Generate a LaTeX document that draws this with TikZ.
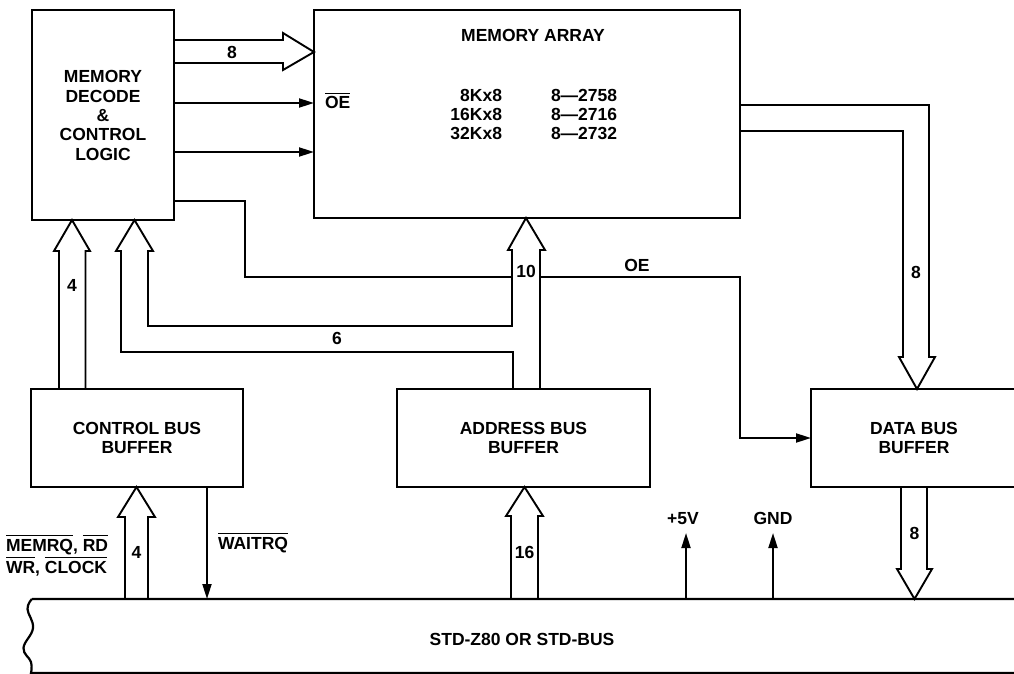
\documentclass[tikz,border=0pt]{standalone}
\usepackage{fontspec}
\setmainfont{Liberation Sans}
\usetikzlibrary{arrows.meta,calc}
\newcommand\ovl[1]{{\setbox0\hbox{#1}\rlap{\rule[15pt]{\wd0}{1.4pt}}\box0}}
\begin{document}
\begin{tikzpicture}[x=1pt,y=-1pt,
  box/.style={draw,line width=2.4pt,rectangle,inner sep=0pt,outer sep=0pt},
  wire/.style={line width=1.9pt,line join=miter},
  sig/.style={wire,-{Triangle[length=15pt,width=9pt]}},
  lbl/.style={font=\fontsize{17.5}{19.3}\selectfont\bfseries,inner sep=0pt,outer sep=0pt},
  busline/.style={line width=2.2pt}
]
\fill[white] (0,0) rectangle (1014,674);
\useasboundingbox (0,0) rectangle (1014,674);

% blocks
\node[box,minimum width=142pt,minimum height=210pt] (dec) at (103,115) {};
\node[lbl,align=center] (dect) at (103,115.5) {MEMORY\\DECODE\\\&\\CONTROL\\LOGIC};
\node[box,minimum width=426pt,minimum height=208pt] (mem) at (527,114) {};
\node[lbl] (memt) at (533,35) {MEMORY ARRAY};
\node[lbl,align=right,anchor=east,font=\fontsize{17.5}{19}\selectfont\bfseries] (cap) at (502,114) {8Kx8\\16Kx8\\32Kx8};
\node[lbl,align=left,anchor=west,font=\fontsize{17.5}{19}\selectfont\bfseries] (part) at (551,114) {8—2758\\8—2716\\8—2732};
\node[box,minimum width=212pt,minimum height=98pt] (cbb) at (137,438) {};
\node[lbl,align=center] (cbbt) at (137,438) {CONTROL BUS\\BUFFER};
\node[box,minimum width=253pt,minimum height=98pt] (abb) at (523.5,438) {};
\node[lbl,align=center] (abbt) at (523.5,438) {ADDRESS BUS\\BUFFER};
\node[box,minimum width=206pt,minimum height=98pt] (dbb) at (914,438) {};
\node[lbl,align=center] (dbbt) at (914,438) {DATA BUS\\BUFFER};

% bus
\node[minimum width=989pt,minimum height=74pt,inner sep=0pt,outer sep=0pt] (bus) at (525.5,636) {};
\draw[busline] (1020,599) -- (32,599)
  plot[smooth,tension=0.7] coordinates {(32,599)(27.5,609)(33,628)(23.5,648)(31,662)(31,673)}
  -- (1020,673);
\node[lbl] (bust) at (522,639) {STD-Z80 OR STD-BUS};

% decode -> memory
\draw[wire] (dec.east |- 0,63) -- (283,63) -- (283,70) -- (mem.west |- 0,52) -- (283,33) -- (283,40) -- (dec.east |- 0,40);
\node[lbl] (n8a) at (232,52) {8};
\draw[sig] (dec.east |- 0,103) -- (mem.west |- 0,103);
\node[lbl,anchor=base west] (oeb) at (325,109) {\ovl{OE}};
\draw[sig] (dec.east |- 0,152) -- (mem.west |- 0,152);

% OE to data bus buffer
\draw[wire] (dec.east |- 0,201) -- (245,201) -- (245,277) -- (512,277);
\draw[sig] (540,277) -- (740,277) -- (740,438) -- (dbb.west |- 0,438);
\node[lbl] (oe) at (637,265) {OE};

% memory -> data bus buffer (8)
\draw[wire] (mem.east |- 0,131) -- (903,131) -- (903,357) -- (899,357) -- (dbb.north -| 917,0) -- (935,357) -- (929,357) -- (929,105) -- (mem.east |- 0,105);
\node[lbl] (n8b) at (916,272) {8};

% control buffer -> decode (4)
\draw[wire] (cbb.north -| 59,0) -- (59,251) -- (54,251) -- (dec.south -| 72,0) -- (90,251) -- (85.5,251) -- (cbb.north -| 85.5,0);
\node[lbl] (n4a) at (72,285) {4};

% address buffer -> memory (10) and -> decode (6)
\draw[wire] (abb.north -| 540,0) -- (540,250) -- (545,250) -- (mem.south -| 526,0) -- (508,250) -- (512,250) -- (512,326) -- (148,326) -- (148,251) -- (153,251) -- (dec.south -| 134.5,0) -- (116,251) -- (121,251) -- (121,352) -- (513,352) -- (abb.north -| 513,0);
\node[lbl] (n10) at (526,271) {10};
\node[lbl] (n6) at (337,338) {6};

% bus -> control buffer (4)
\draw[wire] (bus.north -| 125,0) -- (125,517) -- (118,517) -- (cbb.south -| 136.5,0) -- (155,517) -- (148,517) -- (bus.north -| 148,0);
\node[lbl] (n4b) at (136.5,552) {4};
\node[lbl,anchor=base west] (sig1) at (6,551) {\ovl{MEMRQ}, \ovl{RD}};
\node[lbl,anchor=base west] (sig2) at (6,573) {\ovl{WR}, \ovl{CLOCK}};
\draw[sig] (cbb.south -| 207,0) -- (bus.north -| 207,0);
\node[lbl,anchor=base west] (wait) at (218,549) {\ovl{WAITRQ}};

% bus -> address buffer (16)
\draw[wire] (bus.north -| 511,0) -- (511,516) -- (506,516) -- (abb.south -| 524.5,0) -- (543,516) -- (538,516) -- (bus.north -| 538,0);
\node[lbl] (n16) at (524.5,552) {16};

% power
\draw[sig] (bus.north -| 686,0) -- (686,533);
\node[lbl,anchor=base] (p5) at (683,524) {+5V};
\draw[sig] (bus.north -| 773,0) -- (773,533);
\node[lbl,anchor=base] (gnd) at (773,524) {GND};

% data buffer -> bus (8)
\draw[wire] (dbb.south -| 901,0) -- (901,569) -- (897,569) -- (bus.north -| 914.5,0) -- (932,569) -- (927,569) -- (dbb.south -| 927,0);
\node[lbl] (n8c) at (914.5,533) {8};
\end{tikzpicture}
\end{document}
